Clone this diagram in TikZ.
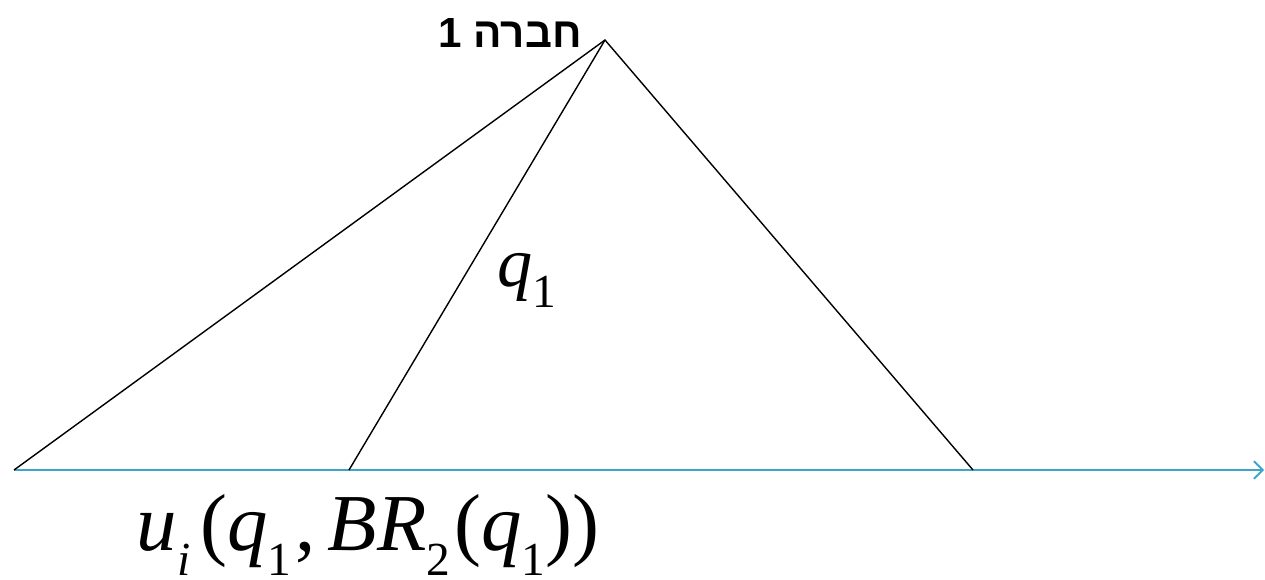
\documentclass[tikz,border=0pt]{standalone}
\usepackage{fontspec}
\setmainfont{Liberation Serif}
\newfontfamily\hebfont[Script=Hebrew]{Liberation Sans}
\TeXXeTstate=1
\usetikzlibrary{arrows.meta}
\newcommand{\lowsub}[1]{\raisebox{-0.3em}{\fontsize{27}{30}\selectfont #1}}
\definecolor{axisblue}{RGB}{60,165,200}
\begin{document}
\begin{tikzpicture}[x=0.02cm,y=-0.02cm,
  edge/.style={draw=black,line width=0.8pt},
  axis/.style={draw=axisblue,line width=1.1pt,-{Straight Barb[length=5pt,width=10pt]}},
  lbl/.style={inner sep=0pt}]
\useasboundingbox (0,0) rectangle (1265,579);
\coordinate (apex) at (605,40);
\coordinate (L) at (14,470);
\coordinate (M) at (349,470);
\coordinate (R) at (973,470);
\coordinate (end) at (1264,470);
\draw[axis] (L) -- (end);
\draw[edge] (L) -- (apex) -- (R);
\draw[edge] (M) -- (apex);
\node[inner sep=0pt,font=\hebfont\bfseries\fontsize{24}{27}\selectfont] (firm) at (510,33) {\beginR חברה 1\endR};
\node[lbl,font=\fontsize{40}{44}\selectfont] (q) at (527,280) {\textit{q}\lowsub{1}};
\node[lbl,font=\fontsize{46}{50}\selectfont] (u) at (368,535) {\textit{u}\lowsub{\textit{i}}\kern0.12em(\textit{q}\lowsub{1}\kern0.05em,\kern0.15em\textit{BR}\lowsub{2}\kern0.05em(\textit{q}\lowsub{1}))};
\end{tikzpicture}
\end{document}
